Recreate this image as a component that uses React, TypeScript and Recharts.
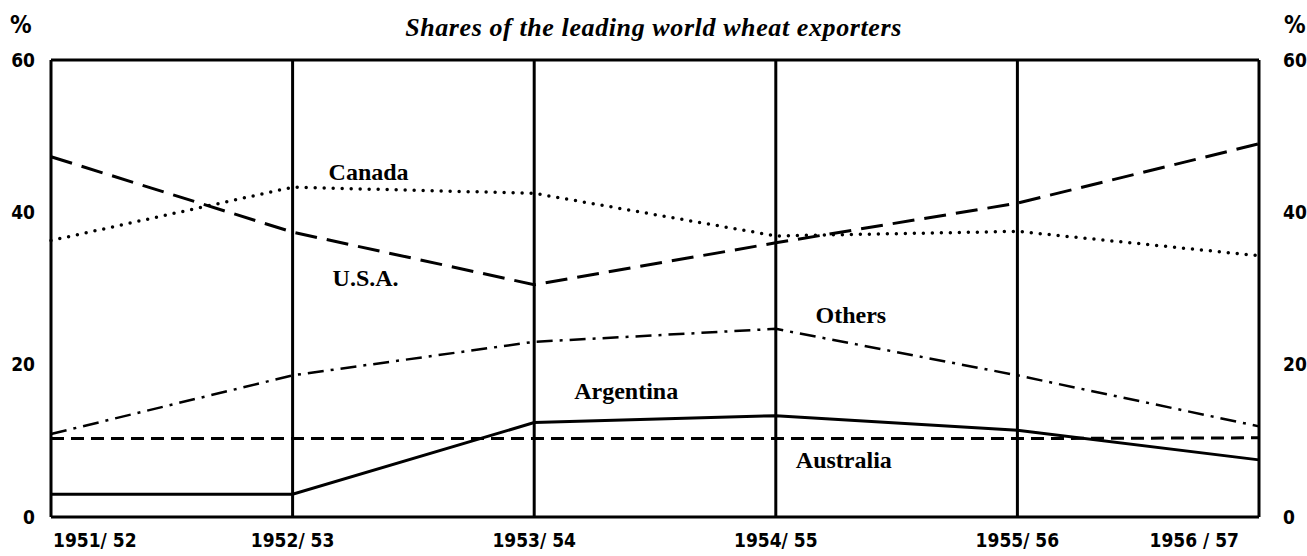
import React from "react";
import {
  LineChart,
  Line,
  XAxis,
  YAxis,
  CartesianGrid,
  ReferenceDot,
  Label,
} from "recharts";

const years = ["1951/ 52", "1952/ 53", "1953/ 54", "1954/ 55", "1955/ 56", "1956 / 57"];
const usa = [47.3, 37.4, 30.5, 36.0, 41.2, 49.0];
const canada = [36.3, 43.3, 42.5, 36.9, 37.5, 34.3];
const others = [10.9, 18.6, 23.0, 24.7, 18.6, 11.9];
const argentina = [3.0, 3.0, 12.4, 13.3, 11.4, 7.5];
const australia = [10.3, 10.3, 10.3, 10.3, 10.3, 10.4];
const yTicks = [0, 20, 40, 60];

const data = years.map((year, i) => ({
  year,
  usa: usa[i],
  canada: canada[i],
  others: others[i],
  argentina: argentina[i],
  australia: australia[i],
}));

const tickFont = "'DejaVu Sans Condensed', 'Liberation Sans Narrow', 'DejaVu Sans', sans-serif";
const serif = "'Liberation Serif', 'DejaVu Serif', serif";

const XTick = (props: any) => {
  const { x, y, payload, index } = props;
  const last = years.length - 1;
  const anchor = index === 0 ? "start" : index === last ? "end" : "middle";
  const dx = index === 0 ? 2 : index === last ? -20 : 0;
  return (
    <text
      x={x + dx}
      y={y}
      dy="0.71em"
      textAnchor={anchor}
      fontFamily={tickFont}
      fontWeight="bold"
      fontSize={19}
      fill="#000"
    >
      {payload.value}
    </text>
  );
};

const seriesLabel = (text: string, dx: number) => (
  <Label
    value={text}
    position="center"
    dx={dx}
    style={{ fontFamily: serif, fontWeight: "bold", fontSize: 24, fill: "#000" }}
  />
);

const yTickStyle = { fontFamily: tickFont, fontWeight: "bold", fontSize: 19, fill: "#000" };

export default function App() {
  return (
    <div style={{ position: "absolute", left: 0, top: 0, width: 1307, height: 556, background: "#fff" }}>
      <div
        style={{
          position: "absolute",
          left: 0,
          width: 1307,
          top: 13,
          textAlign: "center",
          fontFamily: serif,
          fontStyle: "italic",
          fontWeight: "bold",
          fontSize: 26,
          letterSpacing: 0.6,
          lineHeight: "30px",
        }}
      >
        Shares of the leading world wheat exporters
      </div>
      <div style={{ position: "absolute", left: 10, top: 10, fontFamily: tickFont, fontWeight: "bold", fontSize: 24, lineHeight: "30px" }}>%</div>
      <div style={{ position: "absolute", left: 1284, top: 10, fontFamily: tickFont, fontWeight: "bold", fontSize: 24, lineHeight: "30px" }}>%</div>
      <LineChart
        width={1307}
        height={556}
        data={data}
        margin={{ top: 60, right: 0, bottom: 0, left: 0 }}
      >
        <CartesianGrid stroke="#000" strokeWidth={3} />
        <XAxis
          dataKey="year"
          height={39}
          axisLine={false}
          tickLine={false}
          tickSize={0}
          tickMargin={17}
          interval={0}
          tick={<XTick />}
        />
        <YAxis
          yAxisId="left"
          orientation="left"
          width={51}
          domain={[0, 60]}
          ticks={yTicks}
          axisLine={false}
          tickLine={false}
          tickSize={0}
          tickMargin={16}
          tick={yTickStyle}
        />
        <YAxis
          yAxisId="right"
          orientation="right"
          width={48}
          domain={[0, 60]}
          ticks={yTicks}
          axisLine={false}
          tickLine={false}
          tickSize={0}
          tickMargin={24}
          tick={yTickStyle}
        />
        <Line yAxisId="left" type="linear" dataKey="usa" stroke="#000" strokeWidth={3} strokeDasharray="22 10" dot={false} isAnimationActive={false} />
        <Line yAxisId="left" type="linear" dataKey="canada" stroke="#000" strokeWidth={3.5} strokeDasharray="0 9" strokeLinecap="round" dot={false} isAnimationActive={false} />
        <Line yAxisId="left" type="linear" dataKey="others" stroke="#000" strokeWidth={2.5} strokeDasharray="16 7 3 7" dot={false} isAnimationActive={false} />
        <Line yAxisId="left" type="linear" dataKey="argentina" stroke="#000" strokeWidth={3} dot={false} isAnimationActive={false} />
        <Line yAxisId="right" type="linear" dataKey="australia" stroke="#000" strokeWidth={3} strokeDasharray="13 7" dot={false} isAnimationActive={false} />
        <ReferenceDot yAxisId="left" x={years[1]} y={45.3} r={0} stroke="none" fill="none">
          {seriesLabel("Canada", 76)}
        </ReferenceDot>
        <ReferenceDot yAxisId="left" x={years[1]} y={31.5} r={0} stroke="none" fill="none">
          {seriesLabel("U.S.A.", 73)}
        </ReferenceDot>
        <ReferenceDot yAxisId="left" x={years[3]} y={26.6} r={0} stroke="none" fill="none">
          {seriesLabel("Others", 75)}
        </ReferenceDot>
        <ReferenceDot yAxisId="left" x={years[2]} y={16.6} r={0} stroke="none" fill="none">
          {seriesLabel("Argentina", 92)}
        </ReferenceDot>
        <ReferenceDot yAxisId="left" x={years[3]} y={7.6} r={0} stroke="none" fill="none">
          {seriesLabel("Australia", 68)}
        </ReferenceDot>
      </LineChart>
    </div>
  );
}
